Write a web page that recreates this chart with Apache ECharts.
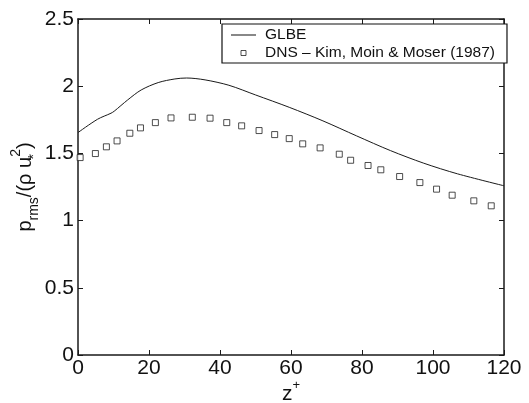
<!DOCTYPE html>
<html>
<head>
<meta charset="utf-8">
<script src="https://cdn.jsdelivr.net/npm/echarts@6/dist/echarts.min.js"></script>
<style>
html,body{margin:0;padding:0;background:#fff;}
#c{width:529px;height:403px;}
</style>
</head>
<body>
<div id="c"></div>
<script>
const xTicks = [0, 20, 40, 60, 80, 100, 120];
const yTicks = [0, 0.5, 1, 1.5, 2, 2.5];

const glbeName = 'GLBE';
const glbeX = [0, 5.5, 9.3, 10.2, 14.0, 17.8, 22.6, 27.3, 30.6, 35.8, 42.5, 50.0, 59.5, 69.0, 78.5, 88.0, 97.4, 106.9, 120];
const glbeY = [1.655, 1.754, 1.799, 1.814, 1.898, 1.972, 2.027, 2.054, 2.061, 2.047, 2.007, 1.935, 1.843, 1.742, 1.630, 1.521, 1.427, 1.348, 1.259];

const dnsName = 'DNS \u2013 Kim, Moin & Moser (1987)';
const dnsX = [0.6, 4.9, 8.0, 11.0, 14.6, 17.6, 21.8, 26.2, 32.2, 37.2, 41.9, 46.1, 51.0, 55.4, 59.5, 63.3, 68.2, 73.6, 76.8, 81.7, 85.3, 90.6, 96.3, 101.0, 105.4, 111.5, 116.4];
const dnsY = [1.469, 1.499, 1.549, 1.593, 1.650, 1.690, 1.729, 1.764, 1.769, 1.762, 1.729, 1.705, 1.670, 1.640, 1.610, 1.571, 1.541, 1.494, 1.449, 1.410, 1.378, 1.328, 1.283, 1.234, 1.189, 1.147, 1.110];

const FONT = "'Liberation Sans', Arial, Helvetica, sans-serif";
const AX = '#1a1a1a';

const chart = echarts.init(document.getElementById('c'), null, {renderer: 'canvas'});

const axisCommon = {
  type: 'value',
  nameMoveOverlap: false,
  axisLine: {show: true, onZero: false, lineStyle: {color: AX, width: 1.5}},
  axisTick: {show: true, inside: true, length: 5, lineStyle: {color: AX, width: 1}},
  splitLine: {show: false}
};

const xMin = xTicks[0], xMax = xTicks[xTicks.length - 1], xInt = xTicks[1] - xTicks[0];
const yMin = yTicks[0], yMax = yTicks[yTicks.length - 1], yInt = yTicks[1] - yTicks[0];

const option = {
  animation: false,
  backgroundColor: '#fff',
  textStyle: {fontFamily: FONT},
  grid: {left: 78, right: 25, top: 19, bottom: 48, containLabel: false, outerBoundsMode: 'none'},
  xAxis: [
    Object.assign({}, axisCommon, {
      position: 'bottom', min: xMin, max: xMax, interval: xInt,
      axisLabel: {fontSize: 21, color: '#111', margin: 3, fontFamily: FONT},
      name: '{b|z}{sup|+}',
      nameLocation: 'middle', nameGap: 24,
      nameTextStyle: {
        fontFamily: FONT, color: '#111',
        rich: {
          b: {fontSize: 21, fontFamily: FONT, color: '#111', lineHeight: 26, verticalAlign: 'bottom'},
          sup: {fontSize: 13, fontFamily: FONT, color: '#111', verticalAlign: 'top'}
        }
      }
    }),
    Object.assign({}, axisCommon, {
      position: 'top', min: xMin, max: xMax, interval: xInt,
      axisLabel: {show: false}
    })
  ],
  yAxis: [
    Object.assign({}, axisCommon, {
      position: 'left', min: yMin, max: yMax, interval: yInt,
      axisLabel: {fontSize: 21, color: '#111', margin: 4, fontFamily: FONT},
      name: '{b|p}{sub|rms}{b|/(\u03c1 u}{subz|*}{sup|2}{b|)}',
      nameLocation: 'middle', nameRotate: 90, nameGap: 37,
      nameTextStyle: {
        fontFamily: FONT, color: '#111',
        rich: {
          b: {fontSize: 20, fontFamily: FONT, color: '#111', lineHeight: 32},
          sub: {fontSize: 14, fontFamily: FONT, color: '#111', verticalAlign: 'bottom'},
          subz: {fontSize: 14, fontFamily: FONT, color: '#111', verticalAlign: 'bottom', width: 0},
          sup: {fontSize: 14, fontFamily: FONT, color: '#111', verticalAlign: 'top'}
        }
      }
    }),
    Object.assign({}, axisCommon, {
      position: 'right', min: yMin, max: yMax, interval: yInt,
      axisLabel: {show: false}
    })
  ],
  legend: {
    show: true,
    left: 222, top: 24,
    orient: 'vertical',
    backgroundColor: '#fff',
    borderColor: '#111', borderWidth: 1.2, borderRadius: 0,
    padding: [3, 12, 2, 9],
    itemGap: 2,
    itemWidth: 25, itemHeight: 5,
    symbolKeepAspect: true,
    textStyle: {fontSize: 15.5, color: '#111', fontFamily: FONT, padding: [0, 0, 0, 4]},
    data: [
      {name: glbeName, icon: 'path://M0,0H25V1H0Z', itemStyle: {color: '#111', borderWidth: 0}},
      {name: dnsName, icon: 'path://M0,0H10V10H0Z', itemStyle: {color: '#fff', borderColor: '#222', borderWidth: 1}}
    ]
  },
  series: [
    {
      name: glbeName, type: 'line',
      data: glbeX.map((x, i) => [x, glbeY[i]]),
      showSymbol: false, symbol: 'none',
      smooth: 0.3,
      lineStyle: {color: '#1a1a1a', width: 1},
      itemStyle: {color: '#1a1a1a'},
      z: 3
    },
    {
      name: dnsName, type: 'scatter',
      data: dnsX.map((x, i) => [x, dnsY[i]]),
      symbol: 'rect', symbolSize: 6,
      itemStyle: {color: '#fff', borderColor: '#222', borderWidth: 1},
      z: 4
    }
  ]
};
chart.setOption(option);
</script>
</body>
</html>
